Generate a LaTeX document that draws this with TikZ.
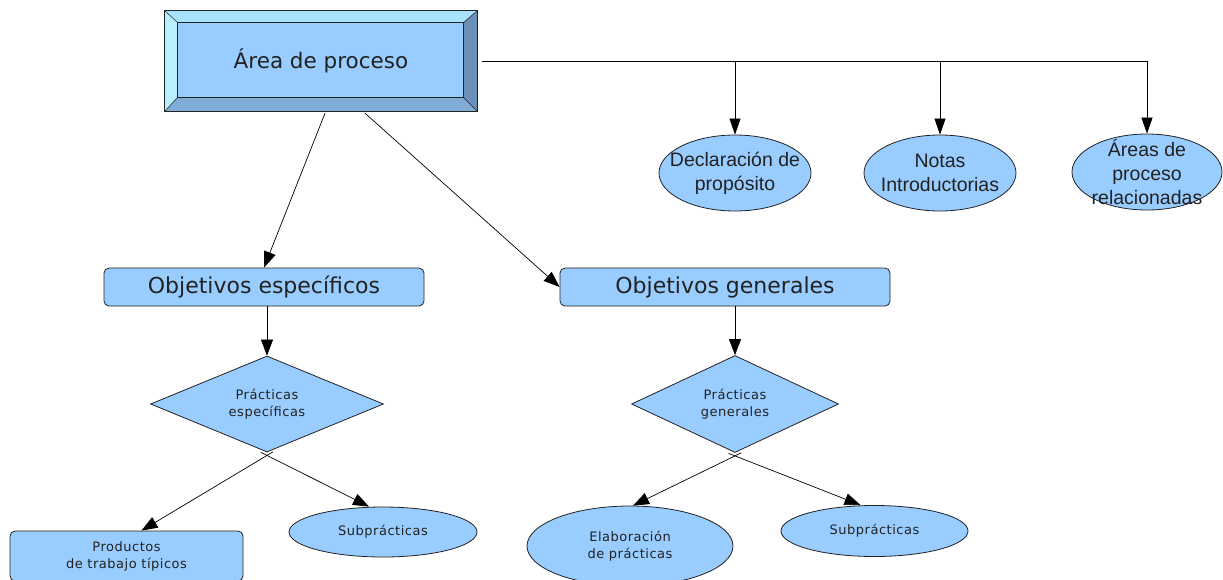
\documentclass[tikz,border=0pt]{standalone}
\usepackage{fontspec}
\setmainfont{DejaVu Sans}
\newfontfamily\arialfont{Liberation Sans}
\newfontfamily\spacedfont[LetterSpace=4]{DejaVu Sans}
\usetikzlibrary{shapes.geometric,arrows.meta,calc,backgrounds}
\definecolor{boxblue}{HTML}{99CCFF}
\definecolor{bevtop}{HTML}{A8E2FF}
\definecolor{bevleft}{HTML}{B8F0FF}
\definecolor{bevright}{HTML}{6890B8}
\definecolor{bevbottom}{HTML}{80ACD8}
\definecolor{inkgray}{HTML}{222222}

\begin{document}
\begin{tikzpicture}[x=1pt,y=-1pt,
  outl/.style={draw=inkgray, line width=0.8pt},
  arr/.style={draw=black, line width=0.7pt, -{Triangle[length=16pt,width=12pt]}},
  toparr/.style={draw=black, line width=0.7pt, -{Triangle[length=16pt,width=11pt]}},
  rbox/.style={rectangle, rounded corners=5pt, fill=boxblue, outl, inner sep=0pt, text=inkgray},
  bigtext/.style={font=\fontsize{22}{26}\selectfont},
  smalltext/.style={font=\spacedfont\fontsize{13}{17}\selectfont, align=center, text=inkgray},
  topell/.style={ellipse, fill=boxblue, outl, inner sep=0pt, minimum width=152pt, minimum height=76pt},
  toptxt/.style={font=\arialfont\fontsize{19.5}{24}\selectfont, align=center, text=inkgray, inner sep=0pt},
  lowell/.style={ellipse, fill=boxblue, outl, inner sep=0pt, smalltext},
  flowdia/.style={diamond, aspect=2.4, fill=boxblue, outl, inner sep=0pt, smalltext}
]
\useasboundingbox (0,0) rectangle (1223,579);

% bevelled title block
\node[rectangle, fill=boxblue, minimum width=312pt, minimum height=100pt, inner sep=0pt,
      font=\fontsize{21.5}{26}\selectfont, text=inkgray] (apro) at (321,61) {Área de proceso};
\coordinate (inw) at ($(apro.north west)+(13,12)$);
\coordinate (ine) at ($(apro.north east)+(-14,12)$);
\coordinate (ise) at ($(apro.south east)+(-14,-14)$);
\coordinate (isw) at ($(apro.south west)+(13,-14)$);
\fill[bevtop]    (apro.north west) -- (apro.north east) -- (ine) -- (inw) -- cycle;
\fill[bevleft]   (apro.north west) -- (inw) -- (isw) -- (apro.south west) -- cycle;
\fill[bevright]  (apro.north east) -- (apro.south east) -- (ise) -- (ine) -- cycle;
\fill[bevbottom] (apro.south west) -- (apro.south east) -- (ise) -- (isw) -- cycle;
\draw[outl] (apro.north west) rectangle (apro.south east);
\draw[outl] (inw) rectangle (ise);
\draw[outl, line width=0.5pt] (apro.north west) -- (inw) (apro.north east) -- (ine)
  (apro.south east) -- (ise) (apro.south west) -- (isw);

% top row of ellipses
\node[topell] (decl)  at (735,173) {};
\node[toptxt] at (decl) {Declaración de\\propósito};
\node[topell] (notas) at (940,173) {};
\node[toptxt] at (notas) {Notas\\Introductorias};
\node[topell, minimum width=150pt] (areas) at (1147,172) {};
\node[toptxt] at (areas) {Áreas de\\proceso\\relacionadas};

\draw[toparr, shorten <=5pt] (apro.east) -| (decl.north);
\draw[toparr, shorten <=5pt] (apro.east) -| (notas.north);
\draw[toparr, shorten <=5pt] (apro.east) -| (areas.north);

% objectives
\node[rbox, bigtext, minimum width=320pt, minimum height=38pt] (oesp) at (264,287) {Objetivos específicos};
\node[rbox, bigtext, minimum width=330pt, minimum height=38pt] (ogen) at (725,287) {Objetivos generales};

\draw[arr] ($(apro.south)+(4,2)$) -- (oesp.north);
\draw[arr] ($(apro.south)+(44,2)$) -- (ogen.west);

% practices
\node[flowdia, minimum width=233pt, minimum height=96pt] (pesp) at (267,404) {Prácticas\\específicas};
\node[flowdia, minimum width=207pt, minimum height=97pt] (pgen) at (735,404) {Prácticas\\generales};

\draw[arr] (pesp.north |- oesp.south) -- (pesp.north);
\draw[arr] (pgen.north |- ogen.south) -- (pgen.north);

% bottom row
\node[rbox, smalltext, minimum width=233pt, minimum height=50pt] (prod) at (126.5,556) {Productos\\de trabajo típicos};
\node[lowell, minimum width=188pt, minimum height=50pt] (sub1) at (383,532) {Subprácticas};
\node[lowell, minimum width=206pt, minimum height=80pt] (elab) at (630,546) {Elaboración\\de prácticas};
\node[lowell, minimum width=187pt, minimum height=51pt] (sub2) at (874.5,531) {Subprácticas};

% connectors leaving the diamonds start behind them and cross just below the tip
\coordinate (c1) at ($(pesp.south)+(0,3)$);
\coordinate (c2) at ($(pgen.south)+(0,3)$);
\coordinate (t1) at ($(prod.north)+(15,0)$);
\coordinate (t2) at ($(sub1.north)+(-14,0)$);
\coordinate (t3) at ($(elab.north)+(3,0)$);
\coordinate (t4) at ($(sub2.north)+(-14,0)$);
\begin{scope}[on background layer]
  \fill[white] (0,0) rectangle (1223,579);
  \draw[arr] ($(c1)!-7pt!(t1)$) -- (t1);
  \draw[arr] ($(c1)!-7pt!(t2)$) -- (t2);
  \draw[arr] ($(c2)!-7pt!(t3)$) -- (t3);
  \draw[arr] ($(c2)!-7pt!(t4)$) -- (t4);
\end{scope}
\end{tikzpicture}
\end{document}
